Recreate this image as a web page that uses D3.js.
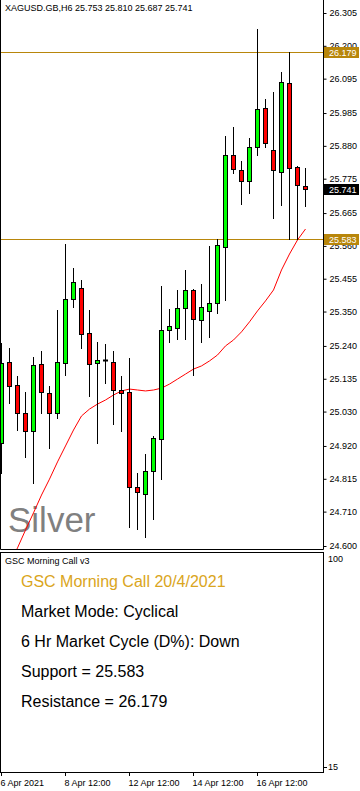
<!DOCTYPE html>
<html><head><meta charset="utf-8">
<script src="https://cdn.jsdelivr.net/npm/d3@7/dist/d3.min.js"></script>
<style>
html,body{margin:0;padding:0;background:#fff;}
svg{display:block;}
text{font-family:"Liberation Sans",Arial,sans-serif;}
</style></head>
<body>
<script>
// ---- data ----
const symbolInfo = "XAGUSD.GB,H6  25.753 25.810 25.687 25.741";
const openP  = [24.929,25.188,25.115,25.025,24.967,25.181,25.089,25.026,25.186,25.389,25.424,25.280,25.184,25.195,25.188,25.098,25.092,24.788,24.765,24.839,24.941,25.290,25.296,25.360,25.418,25.322,25.351,25.376,25.558,25.850,25.802,25.769,25.875,26.000,25.866,25.797,26.080,25.813,25.753];
const highP  = [25.248,25.233,25.144,25.093,25.206,25.224,25.112,25.355,25.566,25.489,25.451,25.355,25.253,25.245,25.223,25.144,25.201,24.833,24.894,24.952,25.432,25.358,25.419,25.483,25.421,25.438,25.560,25.583,25.912,25.940,25.832,25.905,26.254,26.030,26.052,26.116,26.179,25.817,25.810];
const lowP   = [24.834,25.058,24.971,24.886,24.803,25.026,24.914,25.010,25.147,25.364,25.234,25.081,24.930,25.120,24.991,24.969,24.662,24.655,24.630,24.685,24.813,25.254,25.261,25.261,25.148,25.254,25.270,25.344,25.388,25.794,25.695,25.730,25.851,25.877,25.650,25.692,25.583,25.583,25.687];
const closeP = [25.184,25.113,25.025,24.969,25.178,25.094,25.026,25.188,25.389,25.444,25.279,25.181,25.194,25.195,25.098,25.089,24.788,24.772,24.839,24.945,25.290,25.303,25.360,25.418,25.325,25.364,25.376,25.562,25.850,25.807,25.769,25.875,25.997,25.888,25.804,26.083,25.810,25.756,25.741];
const maP    = [24.485,24.539,24.594,24.651,24.706,24.763,24.814,24.869,24.920,24.971,25.016,25.038,25.054,25.067,25.083,25.096,25.102,25.099,25.096,25.099,25.105,25.118,25.134,25.150,25.166,25.176,25.192,25.211,25.240,25.259,25.285,25.317,25.352,25.384,25.419,25.483,25.534,25.579,25.614];
const priceTicks = [26.305,26.200,26.095,25.985,25.880,25.775,25.665,25.560,25.455,25.350,25.240,25.135,25.030,24.920,24.815,24.710,24.600];
const timeTickIndex = [0,8,16,24,32];
const timeTickLabels = ["6 Apr 2021","8 Apr 12:00","12 Apr 12:00","14 Apr 12:00","16 Apr 12:00"];
const supportLevel = 25.583;
const resistanceLevel = 26.179;
const lastPrice = 25.741;
const watermark = "Silver";
const panelTitle = "GSC Morning Call v3";
const panelLines = ["GSC Morning Call 20/4/2021","Market Mode: Cyclical","6 Hr Market Cycle (D%): Down","Support = 25.583","Resistance = 26.179"];
const panelScale = ["100","15"];

// ---- layout ----
const W = 360, H = 791;
const plotR = 323;         // right edge of plot area (axis line)
const mainBottom = 549;
const subTop = 552, subBottom = 772;
const GOLD = "#B8860B";

const svg = d3.select("body").append("svg").attr("width", W).attr("height", H);
svg.append("rect").attr("width", W).attr("height", H).attr("fill", "#fff");

const idx = d3.range(openP.length);
const x = d3.scaleLinear().domain([0, 38]).range([1.5, 305.5]);
const y = d3.scaleLinear().domain([24.6, 26.305]).range([546, 13]);
const py = v => Math.round(y(v)) + 0.5;

svg.append("clipPath").attr("id", "clipMain")
  .append("rect").attr("x", 0).attr("y", 0).attr("width", plotR).attr("height", mainBottom);

// watermark
svg.append("text").attr("x", 8).attr("y", 532).attr("font-size", 35)
  .attr("fill", "#808080").text(watermark);

const plot = svg.append("g").attr("clip-path", "url(#clipMain)");

// support / resistance lines
[resistanceLevel, supportLevel].forEach(v => {
  plot.append("line").attr("x1", 0).attr("x2", plotR).attr("y1", py(v)).attr("y2", py(v))
    .attr("stroke", GOLD).attr("stroke-width", 1);
});

// MA
const line = d3.line().x(i => x(i)).y(i => y(maP[i]));
plot.append("path").datum(idx).attr("d", line).attr("fill", "none")
  .attr("stroke", "#FF0000").attr("stroke-width", 1);

// candles
const cg = plot.selectAll("g.c").data(idx).join("g").attr("class", "c");
cg.append("line").attr("x1", i => x(i)).attr("x2", i => x(i))
  .attr("y1", i => Math.round(y(highP[i]))).attr("y2", i => Math.round(y(lowP[i])) + 1)
  .attr("stroke", "#000").attr("stroke-width", 1);
cg.append("rect")
  .attr("x", i => x(i) - 2)
  .attr("width", 4)
  .attr("y", i => py(Math.max(openP[i], closeP[i])))
  .attr("height", i => Math.max(0.01, py(Math.min(openP[i], closeP[i])) - py(Math.max(openP[i], closeP[i]))))
  .attr("fill", i => closeP[i] >= openP[i] ? "#00FF00" : "#FF0000")
  .attr("stroke", "#000").attr("stroke-width", 1);
// doji marks
cg.filter(i => Math.abs(py(openP[i]) - py(closeP[i])) < 1)
  .append("line").attr("x1", i => x(i) - 2.5).attr("x2", i => x(i) + 2.5)
  .attr("y1", i => py(openP[i])).attr("y2", i => py(openP[i]))
  .attr("stroke", "#000").attr("stroke-width", 2);

// frames
svg.append("path").attr("d", `M0.5,0 V${mainBottom + 0.5} H${plotR + 0.5} V0`)
  .attr("fill", "none").attr("stroke", "#000");
svg.append("rect").attr("x", 0.5).attr("y", subTop + 0.5).attr("width", plotR).attr("height", subBottom - subTop)
  .attr("fill", "none").attr("stroke", "#000");

// price axis
const axis = d3.axisRight(y).tickValues(priceTicks).tickFormat(d3.format(".3f")).tickSize(3).tickPadding(3);
const ag = svg.append("g").attr("transform", `translate(${plotR + 0.5},0)`).call(axis);
ag.select(".domain").remove();
ag.selectAll("text").attr("font-size", 9).attr("fill", "#000")
  .attr("font-family", "'Liberation Sans', Arial, sans-serif");
ag.selectAll("line").attr("stroke", "#000");

// price labels
function priceBox(v, fill) {
  const yy = Math.round(y(v));
  svg.append("rect").attr("x", plotR + 1).attr("y", yy - 5).attr("width", 35).attr("height", 11).attr("fill", fill);
  svg.append("text").attr("x", plotR + 6).attr("y", yy + 0.5).attr("dy", "0.35em")
    .attr("font-size", 9).attr("fill", "#fff").text(d3.format(".3f")(v));
}
priceBox(resistanceLevel, GOLD);
priceBox(supportLevel, GOLD);
priceBox(lastPrice, "#000");

// header
svg.append("text").attr("x", 5).attr("y", 11).attr("font-size", 9).attr("fill", "#000").text(symbolInfo);

// sub panel
svg.append("text").attr("x", 5).attr("y", 564).attr("font-size", 9).attr("fill", "#000").text(panelTitle);
panelLines.forEach((t, k) => {
  svg.append("text").attr("x", 21).attr("y", 587 + 30 * k).attr("font-size", 16)
    .attr("fill", k === 0 ? "#DAA520" : "#000").text(t);
});
svg.append("text").attr("x", 328).attr("y", 562).attr("font-size", 9).text(panelScale[0]);
svg.append("text").attr("x", 328).attr("y", 770).attr("font-size", 9).text(panelScale[1]);
svg.append("line").attr("x1", plotR + 0.5).attr("x2", plotR + 4).attr("y1", 767.5).attr("y2", 767.5).attr("stroke", "#000");

// time axis
const tg = svg.append("g");
timeTickIndex.forEach((i, k) => {
  tg.append("line").attr("x1", x(i)).attr("x2", x(i)).attr("y1", subBottom).attr("y2", subBottom + 4).attr("stroke", "#000");
  tg.append("text").attr("x", x(i) - 1).attr("y", 786).attr("font-size", 9).attr("fill", "#000").text(timeTickLabels[k]);
});
</script>
</body></html>
